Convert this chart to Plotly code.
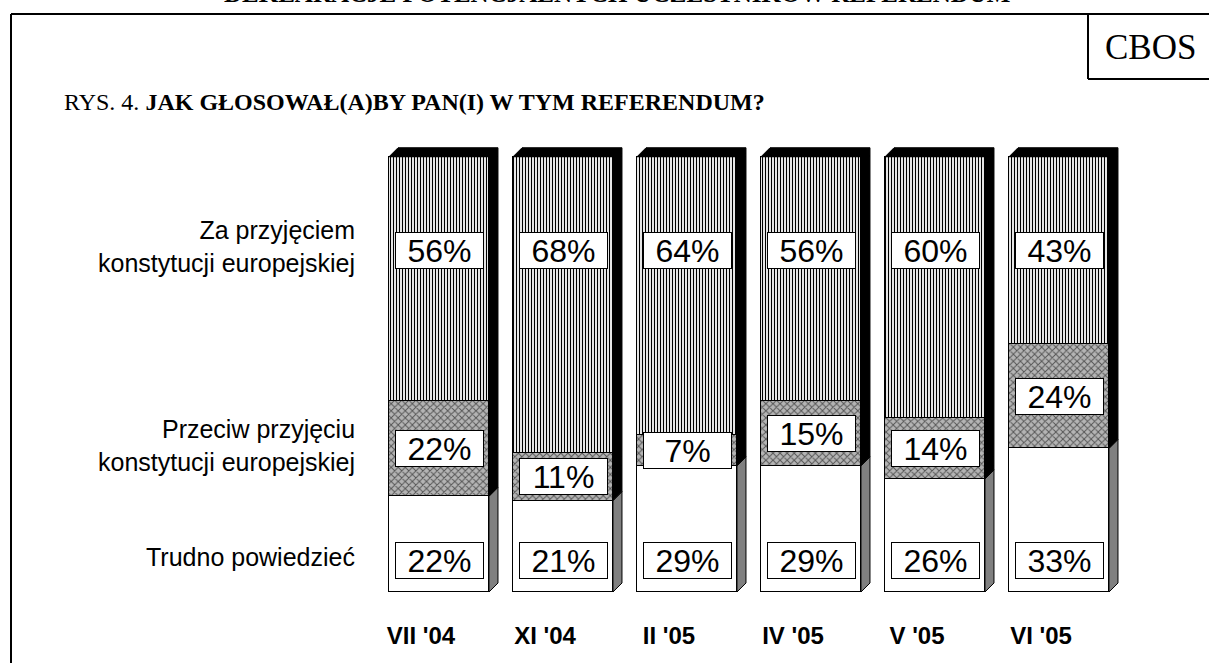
"""CBOS: Jak głosował(a)by Pan(i) w tym referendum? - stacked 3D-look columns."""

import plotly.graph_objects as go

# --- data -------------------------------------------------------------
periods = ["VII '04", "XI '04", "II '05", "IV '05", "V '05", "VI '05"]
za = [56, 68, 64, 56, 60, 43]          # Za przyjęciem konstytucji europejskiej
przeciw = [22, 11, 7, 15, 14, 24]      # Przeciw przyjęciu konstytucji europejskiej
trudno = [22, 21, 29, 29, 26, 33]      # Trudno powiedzieć

row_labels = [
    "Za przyjęciem<br>konstytucji europejskiej",
    "Przeciw przyjęciu<br>konstytucji europejskiej",
    "Trudno powiedzieć",
]

# --- geometry (pixels of the 1209x663 page) ---------------------------
W, H = 1209, 663
L, R, T, B = 377, 88, 135, 71
PW, PH = W - L - R, H - T - B
YMAX = 105
BAR_W = 0.806
DX = 9 / (PW / 6)          # depth of the 3D side, in x units
DY = 9 / (PH / YMAX)       # depth of the 3D top, in y units

SANS = "Liberation Sans, Arial, sans-serif"
SERIF = "Liberation Serif, Times New Roman, serif"


def px(x):
    return (x - L) / PW


def py(y):
    return (H - B - y) / PH


xs = list(range(len(periods)))

fig = go.Figure()
fig.add_trace(go.Bar(
    x=xs, y=trudno, width=BAR_W, name=row_labels[2],
    marker=dict(color="white", line=dict(color="black", width=1.5)),
))
fig.add_trace(go.Bar(
    x=xs, y=przeciw, width=BAR_W, name=row_labels[1],
    marker=dict(color="#b4b4b4", line=dict(color="black", width=1.5),
                pattern=dict(shape="x", fgcolor="#555555", bgcolor="#b4b4b4",
                             size=5, solidity=0.35, fillmode="replace")),
))
fig.add_trace(go.Bar(
    x=xs, y=za, width=BAR_W, name=row_labels[0],
    marker=dict(color="white", line=dict(color="black", width=1.5),
                pattern=dict(shape="|", fgcolor="black", bgcolor="white",
                             size=3, solidity=0.4, fillmode="replace")),
))

# 3D side and top faces, built from the stacked totals
gx, gy, kx, ky = [], [], [], []
for i in xs:
    r = i + BAR_W / 2
    l = i - BAR_W / 2
    t = trudno[i]
    top = trudno[i] + przeciw[i] + za[i]
    gx += [r, r + DX, r + DX, r, r, None]
    gy += [0, DY, t + DY, t, 0, None]
    kx += [r, r + DX, r + DX, l + DX, l, r, r, None]
    ky += [t, t + DY, top + DY, top + DY, top, top, t, None]

fig.add_trace(go.Scatter(x=gx, y=gy, fill="toself", fillcolor="#808080",
                         mode="lines", line=dict(color="black", width=1),
                         hoverinfo="skip", showlegend=False))
fig.add_trace(go.Scatter(x=kx, y=ky, fill="toself", fillcolor="black",
                         mode="lines", line=dict(color="black", width=1),
                         hoverinfo="skip", showlegend=False))

# percentage boxes
annotations = []
for i in xs:
    for val, yv in ((za[i], 78.5), (przeciw[i], trudno[i] + przeciw[i] / 2),
                    (trudno[i], 7.2)):
        annotations.append(dict(
            x=i, y=yv, xref="x", yref="y", text=f"{val}%", showarrow=False,
            font=dict(family=SANS, size=32, color="black"),
            bgcolor="white", bordercolor="black", borderwidth=1,
            borderpad=1, width=85, height=33,
        ))

# row labels on the left
for text, yc in zip(row_labels, (246, 445, 557)):
    annotations.append(dict(
        x=px(357), y=py(yc), xref="paper", yref="paper", text=text,
        xanchor="right", yanchor="middle", align="right", showarrow=False,
        font=dict(family=SANS, size=25, color="black"),
    ))

annotations += [
    dict(x=px(617), y=py(9), xref="paper", yref="paper",
         text="<b>DEKLARACJE POTENCJALNYCH UCZESTNIKÓW REFERENDUM</b>",
         xanchor="center", yanchor="bottom", showarrow=False,
         font=dict(family=SERIF, size=25, color="black")),
    dict(x=px(1150), y=py(47), xref="paper", yref="paper", text="CBOS",
         xanchor="center", yanchor="middle", showarrow=False,
         font=dict(family=SERIF, size=35, color="black")),
    dict(x=px(62), y=py(102), xref="paper", yref="paper",
         text="RYS. 4. <b>JAK GŁOSOWAŁ(A)BY PAN(I) W TYM REFERENDUM?</b>",
         xanchor="left", yanchor="middle", showarrow=False,
         font=dict(family=SERIF, size=24, color="black")),
]

frame = dict(color="black", width=2)
shapes = [
    dict(type="line", xref="paper", yref="paper", x0=px(11), x1=px(W + 5),
         y0=py(14), y1=py(14), line=frame),
    dict(type="line", xref="paper", yref="paper", x0=px(11), x1=px(11),
         y0=py(14), y1=py(H + 5), line=frame),
    dict(type="line", xref="paper", yref="paper", x0=px(1088), x1=px(1088),
         y0=py(14), y1=py(79), line=frame),
    dict(type="line", xref="paper", yref="paper", x0=px(1088), x1=px(W + 5),
         y0=py(79), y1=py(79), line=frame),
]

fig.update_layout(
    width=W, height=H,
    margin=dict(l=L, r=R, t=T, b=B, pad=0),
    barmode="stack", bargap=0,
    plot_bgcolor="white", paper_bgcolor="white",
    showlegend=False,
    annotations=annotations, shapes=shapes,
    xaxis=dict(range=[-0.5, 5.5], tickvals=xs,
               ticktext=[f"<b>{p}</b>" for p in periods],
               tickfont=dict(family=SANS, size=24, color="black"),
               showgrid=False, zeroline=False, showline=False, ticks="",
               ticklabelstandoff=27, ticklabelshift=-18, fixedrange=True),
    yaxis=dict(range=[0, YMAX], visible=False, fixedrange=True),
)

# the page's default 8px body margin would shift everything; drop it
fig.write_html("out.html", config={"displayModeBar": False},
               post_script="document.body.style.margin = '0';")
